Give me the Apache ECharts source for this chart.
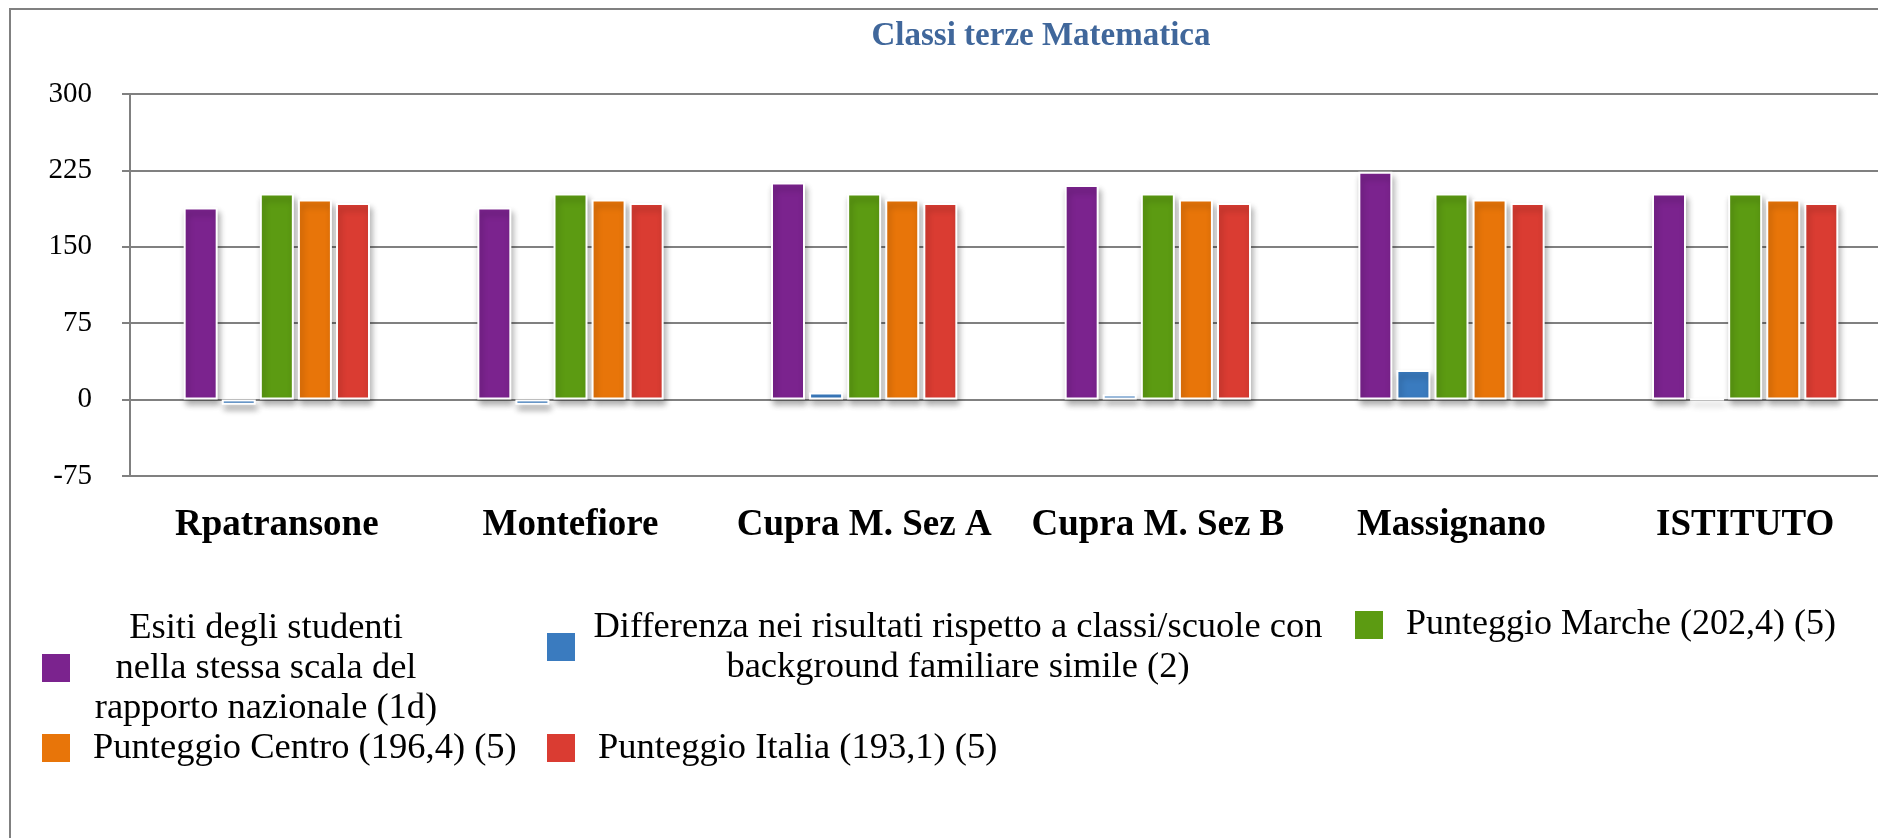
<!DOCTYPE html>
<html>
<head>
<meta charset="utf-8">
<script src="https://cdn.jsdelivr.net/npm/echarts@6/dist/echarts.min.js"></script>
<style>
  html, body { margin: 0; padding: 0; background: #fff; }
  #main { width: 1878px; height: 838px; }
</style>
</head>
<body>
<div id="main"></div>
<script>
// dati
const categories = ['Rpatransone', 'Montefiore', 'Cupra M. Sez A', 'Cupra M. Sez B', 'Massignano', 'ISTITUTO'];
const esiti = [188.6, 188.6, 213.2, 210.6, 223.7, 202.4];
const differenza = [-5, -5, 7, 5, 29, 0];
const marche = [202.4, 202.4, 202.4, 202.4, 202.4, 202.4];
const centro = [196.4, 196.4, 196.4, 196.4, 196.4, 196.4];
const italia = [193.1, 193.1, 193.1, 193.1, 193.1, 193.1];

const seriesNames = [
    'Esiti degli studenti nella stessa scala del rapporto nazionale (1d)',
    'Differenza nei risultati rispetto a classi/scuole con background familiare simile (2)',
    'Punteggio Marche (202,4) (5)',
    'Punteggio Centro (196,4) (5)',
    'Punteggio Italia (193,1) (5)'
];
// righe della legenda come appaiono nel grafico
const legendLines = [
    ['Esiti degli studenti', 'nella stessa scala del', 'rapporto nazionale (1d)'],
    ['Differenza nei risultati rispetto a classi/scuole con', 'background familiare simile (2)'],
    ['Punteggio Marche (202,4) (5)'],
    ['Punteggio Centro (196,4) (5)'],
    ['Punteggio Italia (193,1) (5)']
];
const colors = ['#7b238e', '#3a7bbf', '#5c9b12', '#e87509', '#da3c32'];

const FONT = 'Liberation Serif';
const GRAY = '#808080';

const myChart = echarts.init(document.getElementById('main'));

// posizione di ogni voce di legenda: [left, top, larghezza blocco testo, spazio dopo il quadratino]
const legendPos = [
    [42, 608, 350, 16],
    [547, 607, 730, 13],
    [1355, 605, 0, 18],
    [42, 728, 0, 18],
    [547, 728, 0, 18]
];

const legends = seriesNames.map(function (name, i) {
    const lines = legendLines[i];
    const w = legendPos[i][2];
    const fs = i === 2 ? 36 : 36.5;
    return {
        data: [name],
        left: legendPos[i][0],
        top: legendPos[i][1],
        padding: 0,
        icon: 'rect',
        itemWidth: 28,
        itemHeight: 28,
        selectedMode: false,
        itemStyle: { borderWidth: 0, shadowBlur: 0 },
        formatter: function () {
            if (w === 0) return lines[0];
            return lines.map(function (l) { return '{c|' + l + '}'; }).join('\n');
        },
        textStyle: {
            fontFamily: FONT,
            fontSize: fs,
            lineHeight: 40,
            color: '#000',
            padding: [0, 0, 0, legendPos[i][3]],
            rich: {
                c: { width: w, align: 'center', fontFamily: FONT, fontSize: fs, lineHeight: 40, color: '#000' }
            }
        }
    };
});

const values = [esiti, differenza, marche, centro, italia];

const series = seriesNames.map(function (name, i) {
    return {
        name: name,
        type: 'bar',
        data: values[i],
        barWidth: 34,
        barGap: '12%',
        itemStyle: {
            color: colors[i],
            borderColor: '#fff',
            borderWidth: 2,
            shadowBlur: 6,
            shadowOffsetX: 2,
            shadowOffsetY: 5,
            shadowColor: 'rgba(0,0,0,0.3)'
        }
    };
});

const option = {
    backgroundColor: '#fff',
    animation: false,
    title: {
        text: 'Classi terze Matematica',
        left: 1036,
        top: 15,
        textAlign: 'center',
        textStyle: { fontFamily: FONT, fontSize: 33, fontWeight: 'bold', color: '#40679b' }
    },
    legend: legends,
    grid: { left: 130, width: 1762, top: 94, bottom: 362, containLabel: false, outerBoundsMode: 'none' },
    xAxis: {
        type: 'category',
        data: categories,
        axisLine: { onZero: false, lineStyle: { color: GRAY, width: 2 } },
        axisTick: { length: 8, lineStyle: { color: GRAY, width: 2 } },
        axisLabel: { interval: 0, margin: 31, fontFamily: FONT, fontSize: 37, fontWeight: 'bold', color: '#000' }
    },
    yAxis: {
        type: 'value',
        min: -75,
        max: 300,
        interval: 75,
        axisLine: { show: true, lineStyle: { color: GRAY, width: 2 } },
        axisTick: { show: true, length: 8, lineStyle: { color: GRAY, width: 2 } },
        splitLine: { lineStyle: { color: GRAY, width: 2 } },
        axisLabel: { margin: 38, fontFamily: FONT, fontSize: 29, color: '#000' }
    },
    graphic: [{
        type: 'rect',
        shape: { x: 10, y: 9, width: 2000, height: 2000 },
        style: { fill: 'none', stroke: GRAY, lineWidth: 2 },
        silent: true,
        z: -1
    }],
    series: series
};

myChart.setOption(option);
</script>
</body>
</html>
